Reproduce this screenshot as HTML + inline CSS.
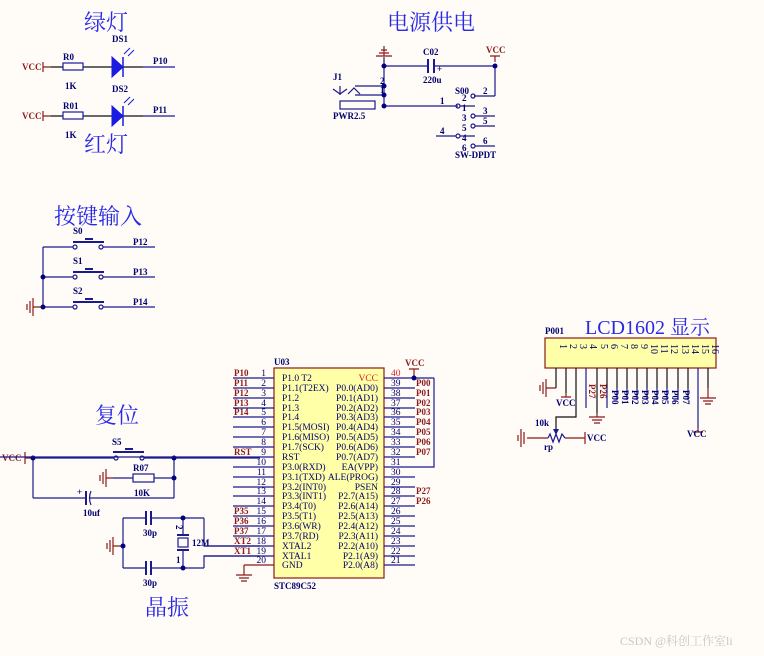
<!DOCTYPE html>
<html><head><meta charset="utf-8"><style>
html,body{margin:0;padding:0;background:#fffbf6;}
svg{display:block}
text{font-family:"Liberation Serif","Noto Serif CJK SC",serif;}
.t{font-family:"Liberation Serif","Noto Serif CJK SC",serif;fill:#2a2ae6;font-size:22px;}
.l{font-size:9px;fill:#00006e;font-weight:bold;}
.n{font-size:9.5px;fill:#00006e;}
.r{fill:#8b1a1a;}
</style></head><body>
<svg width="764" height="656" viewBox="0 0 764 656" xmlns="http://www.w3.org/2000/svg">
<rect width="764" height="656" fill="#fffbf6"/>
<g fill="none" stroke-width="1.2">
<g stroke="#8b1a1a"><path d="M43 62v10M43 67h8M43 111v10M43 116h8"/></g>
<g stroke="#111"><path d="M51 67h12M83 67h29M123 67h20M51 116h12M83 116h29M123 116h20"/></g>
<g stroke="#1a1aa0"><path d="M143 67h32M143 116h32"/><rect x="63" y="63" width="20" height="7"/><rect x="63" y="112" width="20" height="7"/></g>
</g>
<g fill="#1a1ae0" stroke="#1a1ae0"><path d="M112 57l11 10-11 10z"/><path d="M123 57v20M123 106v20" stroke-width="1.5"/><path d="M112 106l11 10-11 10z"/>
<path d="M124 54l6-6M128 56l6-6M124 103l6-6M128 105l6-6" stroke-width="1"/></g>
<text class="l r" x="22" y="70">VCC</text><text class="l r" x="22" y="119">VCC</text>
<text class="l" x="63" y="60">R0</text><text class="l" x="63" y="109">R01</text>
<text class="l" x="65" y="89">1K</text><text class="l" x="65" y="138">1K</text>
<text class="l" x="112" y="42">DS1</text><text class="l" x="112" y="92">DS2</text>
<text class="l" x="153" y="64">P10</text><text class="l" x="153" y="113">P11</text>
<text class="t" x="84" y="30">绿灯</text><text class="t" x="84" y="152">红灯</text>

<text class="t" x="387" y="30">电源供电</text>
<g fill="none" stroke-width="1.2">
<path stroke="#8b1a1a" d="M384 46v10M376 56h16M379 53h10M381 50h6M495 56v6M490 56h10"/>
<path stroke="#1a1a8c" d="M384 57v49M384 66h44M434 66h61M495 66v30M474 96h21M384 106h74M460 106h15M475 116h20M475 126h20M436 136h20M460 136h15M475 146h20M355 86h29M355 95h29M340 86v9"/>
<path stroke="#1a1a8c" d="M428 59v14M434 59v14" stroke-width="2"/>
<rect stroke="#1a1a8c" x="340" y="101" width="35" height="8"/>
<path stroke="#1a1a8c" d="M333 89l7 5 7-5M348 94l6-6 6 6"/>
<g stroke="#1a1a8c"><circle cx="473" cy="96" r="2"/><circle cx="458" cy="106" r="2"/><circle cx="473" cy="116" r="2"/><circle cx="473" cy="126" r="2"/><circle cx="458" cy="136" r="2"/><circle cx="473" cy="146" r="2"/></g>
</g>
<g fill="#000080"><circle cx="384" cy="66" r="2.5"/><circle cx="384" cy="86" r="2.5"/><circle cx="384" cy="95" r="2.5"/><circle cx="384" cy="106" r="2.5"/><circle cx="495" cy="66" r="2.5"/></g>
<text class="l" x="423" y="55">C02</text><text class="l" x="423" y="83">220u</text><text class="l" x="437" y="72">+</text>
<text class="l r" x="486" y="53">VCC</text><text class="l" x="333" y="80">J1</text><text class="l" x="333" y="119">PWR2.5</text>
<text class="l" x="380" y="84">2</text><text class="l" x="380" y="93">1</text>
<text class="l" x="455" y="94">S00</text><text class="l" x="462" y="101">2</text><text class="l" x="483" y="94">2</text>
<text class="l" x="440" y="104">1</text><text class="l" x="462" y="111">1</text>
<text class="l" x="462" y="121">3</text><text class="l" x="483" y="114">3</text>
<text class="l" x="462" y="131">5</text><text class="l" x="483" y="124">5</text>
<text class="l" x="440" y="134">4</text><text class="l" x="462" y="141">4</text>
<text class="l" x="462" y="151">6</text><text class="l" x="483" y="144">6</text>
<text class="l" x="455" y="158">SW-DPDT</text>

<text class="t" x="54" y="224">按键输入</text>
<g fill="none" stroke-width="1.2">
<path stroke="#1a1a8c" d="M43 247v60M43 247h30M43 277h30M43 307h30M103 247h52M103 277h52M103 307h52"/>
<path stroke="#1a1a8c" stroke-width="2" d="M73 242h31M85 239h8M73 272h31M85 269h8M73 302h31M85 299h8"/>
<path stroke="#8b1a1a" d="M43 307h-10M33 298v18M30 301v12M27 304v6"/>
<g stroke="#1a1a8c"><circle cx="75" cy="247" r="2"/><circle cx="101" cy="247" r="2"/><circle cx="75" cy="277" r="2"/><circle cx="101" cy="277" r="2"/><circle cx="75" cy="307" r="2"/><circle cx="101" cy="307" r="2"/></g>
</g>
<g fill="#000080"><circle cx="43" cy="277" r="2.5"/><circle cx="43" cy="307" r="2.5"/></g>
<text class="l" x="73" y="234">S0</text><text class="l" x="73" y="264">S1</text><text class="l" x="73" y="294">S2</text>
<text class="l" x="133" y="245">P12</text><text class="l" x="133" y="275">P13</text><text class="l" x="133" y="305">P14</text>

<text class="t" x="95" y="423">复位</text>
<g fill="none" stroke-width="1.2">
<path stroke="#8b1a1a" d="M25 452v12M25 458h8M103 472v12M100 475v6M106 469v18M106 478h7"/>
<path stroke="#1a1a8c" d="M33 458h81M144 458h116M33 458v40M33 498h53M90 498h84M174 458v40M113 478h20M154 478h20"/>
<path stroke="#1a1a8c" stroke-width="2" d="M113 452h31M125 449h8M86 491v14"/>
<path stroke="#1a1a8c" d="M91 491q-3 7 0 14"/>
<rect stroke="#1a1a8c" x="133" y="474" width="21" height="8"/>
<g stroke="#1a1a8c"><circle cx="116" cy="458" r="2"/><circle cx="142" cy="458" r="2"/></g>
</g>
<g fill="#000080"><circle cx="33" cy="458" r="2.5"/><circle cx="174" cy="458" r="2.5"/><circle cx="174" cy="478" r="2.5"/></g>
<text class="l r" x="2" y="461">VCC</text><text class="l" x="112" y="445">S5</text><text class="l" x="133" y="471">R07</text><text class="l" x="134" y="496">10K</text>
<text class="l" x="77" y="495">+</text><text class="l" x="83" y="516">10uf</text>

<g fill="none" stroke-width="1.2">
<path stroke="#1a1a8c" d="M123 518v50M123 518h23M151 518h53M123 568h23M151 568h53M183 518v18M183 549v19M204 518v28h56M204 568v-12h56"/>
<path stroke="#1a1a8c" stroke-width="2" d="M146 511v14M151 511v14M146 561v14M151 561v14M177 535h12M177 550h12"/>
<rect stroke="#1a1a8c" x="178" y="538" width="10" height="9"/>
<path stroke="#8b1a1a" d="M123 546h-10M113 537v18M110 540v12M107 543v6"/>
</g>
<g fill="#000080"><circle cx="123" cy="546" r="2.5"/><circle cx="183" cy="518" r="2.5"/><circle cx="183" cy="568" r="2.5"/></g>
<text class="l" x="143" y="536">30p</text><text class="l" x="143" y="586">30p</text><text class="l" x="192" y="546">12M</text>
<text class="l" x="175" y="530" transform="rotate(90 178 528)">2</text><text class="l" x="176" y="563">1</text>
<text class="t" x="145" y="615">晶振</text>

<rect x="274" y="368" width="110" height="210" fill="#ffffa8" stroke="#8b1a1a" stroke-width="1.2"/>
<g fill="none" stroke-width="1.2" stroke="#1a1a8c">
<path d="M233 378h41M233 388h41M233 398h41M233 408h41M233 417h41M233 427h41M233 437h41M233 447h41M0 457h274M233 467h41M233 477h41M233 487h41M233 496h41M233 506h41M233 516h41M233 526h41M233 536h41M204 546h70M204 556h70"/>
<path d="M384 388h31M384 398h31M384 408h31M384 417h31M384 427h31M384 437h31M384 447h31M384 457h31M384 477h31M384 487h31M384 496h31M384 506h31M384 516h31M384 526h31M384 536h31M384 546h31M384 556h31M384 565h31M384 467h50V378M434 378h-50"/>
<path stroke="#8b1a1a" d="M414 378v-9M409 369h10M244 565h30M244 565v10M236 575h16M239 578h10M241 581h6"/>
</g>
<circle cx="414" cy="378" r="2.5" fill="#000080"/>
<text class="l" x="274" y="365">U03</text><text class="l" x="274" y="589">STC89C52</text><text class="l r" x="405" y="366">VCC</text>
<g class="n" font-size="9.5">
<text x="282" y="381">P1.0   T2</text><text x="282" y="391">P1.1(T2EX)</text><text x="282" y="401">P1.2</text><text x="282" y="411">P1.3</text><text x="282" y="420">P1.4</text><text x="282" y="430">P1.5(MOSI)</text><text x="282" y="440">P1.6(MISO)</text><text x="282" y="450">P1.7(SCK)</text><text x="282" y="460">RST</text><text x="282" y="470">P3.0(RXD)</text><text x="282" y="480">P3.1(TXD)</text><text x="282" y="490">P3.2(INT0)</text><text x="282" y="499">P3.3(INT1)</text><text x="282" y="509">P3.4(T0)</text><text x="282" y="519">P3.5(T1)</text><text x="282" y="529">P3.6(WR)</text><text x="282" y="539">P3.7(RD)</text><text x="282" y="549">XTAL2</text><text x="282" y="559">XTAL1</text><text x="282" y="568">GND</text>
</g>
<g class="n" text-anchor="end">
<text x="378" y="381" style="fill:#e02020">VCC</text><text x="378" y="391">P0.0(AD0)</text><text x="378" y="401">P0.1(AD1)</text><text x="378" y="411">P0.2(AD2)</text><text x="378" y="420">P0.3(AD3)</text><text x="378" y="430">P0.4(AD4)</text><text x="378" y="440">P0.5(AD5)</text><text x="378" y="450">P0.6(AD6)</text><text x="378" y="460">P0.7(AD7)</text><text x="378" y="470">EA(VPP)</text><text x="378" y="480">ALE(PROG)</text><text x="378" y="490">PSEN</text><text x="378" y="499">P2.7(A15)</text><text x="378" y="509">P2.6(A14)</text><text x="378" y="519">P2.5(A13)</text><text x="378" y="529">P2.4(A12)</text><text x="378" y="539">P2.3(A11)</text><text x="378" y="549">P2.2(A10)</text><text x="378" y="559">P2.1(A9)</text><text x="378" y="568">P2.0(A8)</text>
</g>
<g class="n" text-anchor="end">
<text x="266" y="376">1</text><text x="266" y="386">2</text><text x="266" y="396">3</text><text x="266" y="406">4</text><text x="266" y="415">5</text><text x="266" y="425">6</text><text x="266" y="435">7</text><text x="266" y="445">8</text><text x="266" y="455">9</text><text x="266" y="465">10</text><text x="266" y="475">11</text><text x="266" y="485">12</text><text x="266" y="494">13</text><text x="266" y="504">14</text><text x="266" y="514">15</text><text x="266" y="524">16</text><text x="266" y="534">17</text><text x="266" y="544">18</text><text x="266" y="554">19</text><text x="266" y="563">20</text>
</g>
<g class="n">
<text x="391" y="376" style="fill:#e02020">40</text><text x="391" y="386">39</text><text x="391" y="396">38</text><text x="391" y="406">37</text><text x="391" y="415">36</text><text x="391" y="425">35</text><text x="391" y="435">34</text><text x="391" y="445">33</text><text x="391" y="455">32</text><text x="391" y="465">31</text><text x="391" y="475">30</text><text x="391" y="485">29</text><text x="391" y="494">28</text><text x="391" y="504">27</text><text x="391" y="514">26</text><text x="391" y="524">25</text><text x="391" y="534">24</text><text x="391" y="544">23</text><text x="391" y="554">22</text><text x="391" y="563">21</text>
</g>
<g class="l" style="fill:#8b1a1a">
<text x="234" y="376">P10</text><text x="234" y="386">P11</text><text x="234" y="396">P12</text><text x="234" y="406">P13</text><text x="234" y="415">P14</text><text x="234" y="455">RST</text><text x="234" y="514">P35</text><text x="234" y="524">P36</text><text x="234" y="534">P37</text><text x="234" y="544">XT2</text><text x="234" y="554">XT1</text>
<text x="416" y="386">P00</text><text x="416" y="396">P01</text><text x="416" y="406">P02</text><text x="416" y="415">P03</text><text x="416" y="425">P04</text><text x="416" y="435">P05</text><text x="416" y="445">P06</text><text x="416" y="455">P07</text><text x="416" y="494">P27</text><text x="416" y="504">P26</text>
</g>

<text class="t" x="585" y="334" style="font-size:20px">LCD1602 显示</text>
<text class="l" x="545" y="334">P001</text>
<rect x="545" y="338" width="171" height="30" fill="#ffffa8" stroke="#8b1a1a" stroke-width="1.2"/>
<g class="n" style="font-size:10px">
<text transform="translate(560 344) rotate(90)">1</text><text transform="translate(570 344) rotate(90)">2</text><text transform="translate(580 344) rotate(90)">3</text><text transform="translate(590 344) rotate(90)">4</text><text transform="translate(601 344) rotate(90)">5</text><text transform="translate(611 344) rotate(90)">6</text><text transform="translate(621 344) rotate(90)">7</text><text transform="translate(631 344) rotate(90)">8</text><text transform="translate(641 344) rotate(90)">9</text><text transform="translate(651 344) rotate(90)">10</text><text transform="translate(661 344) rotate(90)">11</text><text transform="translate(671 344) rotate(90)">12</text><text transform="translate(682 344) rotate(90)">13</text><text transform="translate(692 344) rotate(90)">14</text><text transform="translate(702 344) rotate(90)">15</text><text transform="translate(712 344) rotate(90)">16</text>
</g>
<g fill="none" stroke-width="1.2">
<path stroke="#111" d="M556 368v20M566 368v25M576 368v49h-20v12M597 368v45M607 368v20M617 368v20M627 368v20M637 368v20M647 368v20M657 368v20M667 368v20M678 368v20M688 368v20M708 368v20"/>
<path stroke="#1a1a8c" d="M586 368v40M607 388v20M617 388v12M627 388v12M637 388v12M647 388v12M657 388v12M667 388v12M678 388v12M688 388v12M698 368v60"/>
<path stroke="#8b1a1a" d="M556 388h-10M546 379v18M543 382v12M540 385v6M566 393v4M561 397h10M597 413v4M589 417h16M592 420h10M594 423h6M708 388v10M700 398h16M703 401h10M705 404h6M698 428v4M693 432h10M527 438h21M565 438h20M585 432v12M521 429v18M524 432v12M518 435v6"/>
<path stroke="#1a1a8c" d="M548 438l2-4 3 8 3-8 3 8 3-8 3 4"/>
</g>
<path d="M553 429l3 6 3-6z" fill="#1a1a8c"/>
<g class="l" font-size="8.5">
<text transform="translate(589 384) rotate(90)" style="fill:#8b1a1a">P27</text><text transform="translate(600 384) rotate(90)" style="fill:#8b1a1a">P26</text>
<text transform="translate(612 390) rotate(90)">P00</text><text transform="translate(622 390) rotate(90)">P01</text><text transform="translate(632 390) rotate(90)">P02</text><text transform="translate(642 390) rotate(90)">P03</text><text transform="translate(652 390) rotate(90)">P04</text><text transform="translate(662 390) rotate(90)">P05</text><text transform="translate(672 390) rotate(90)">P06</text><text transform="translate(683 390) rotate(90)">P07</text>
</g>
<text class="l" x="556" y="406">VCC</text><text class="l" x="587" y="441">VCC</text><text class="l" x="687" y="437">VCC</text>
<text class="l" x="535" y="426">10k</text><text class="l" x="544" y="450">rp</text>

<text x="620" y="645" font-family="Liberation Sans,Noto Sans CJK SC,sans-serif" font-size="12" fill="#c8c8c8">CSDN @科创工作室li</text>
</svg>
</body></html>
